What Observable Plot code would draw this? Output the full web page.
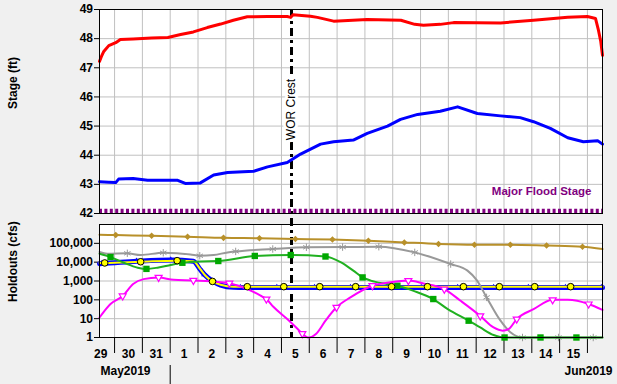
<!DOCTYPE html>
<html><head><meta charset="utf-8">
<script src="https://cdn.jsdelivr.net/npm/d3@7"></script>
<script src="https://cdn.jsdelivr.net/npm/@observablehq/plot@0.6"></script>
<style>
html,body{margin:0;padding:0;background:#f0f0f0;}
#chart{position:relative;width:617px;height:384px;background:#f0f0f0;overflow:hidden;}
#chart svg{position:absolute;left:0;}
</style></head><body><div id="chart"></div>
<script>
// ---------- data ----------
const xStart = "05-29 11:00", xEnd = "06-16 13:00";
const crestTime = "06-05 08:40";
const floodStage = 42.08;
const stageTicks = [42, 43, 44, 45, 46, 47, 48, 49];
const holdTicks = [1, 10, 100, 1000, 10000, 100000];
const holdGrid = [10, 100, 1000, 10000, 100000];
const dayBounds = ["05-30","05-31","06-01","06-02","06-03","06-04","06-05","06-06","06-07","06-08","06-09","06-10","06-11","06-12","06-13","06-14","06-15","06-16"];
const dayLabels = ["05-29","05-30","05-31","06-01","06-02","06-03","06-04","06-05","06-06","06-07","06-08","06-09","06-10","06-11","06-12","06-13","06-14","06-15"];
const monthLabels = ["May2019", "Jun2019"];

const stageRed = [["05-29 11:00",47.22],["05-29 13:00",47.42],["05-29 14:30",47.55],["05-29 19:00",47.76],["05-30 01:00",47.86],["05-30 05:00",47.97],["05-30 16:00",47.99],["05-31 08:00",48.02],["05-31 22:00",48.04],["06-01 09:00",48.14],["06-01 20:00",48.23],["06-02 08:00",48.38],["06-02 19:30",48.5],["06-03 06:30",48.63],["06-03 18:30",48.75],["06-04 12:00",48.76],["06-05 05:00",48.76],["06-05 08:00",48.73],["06-05 10:00",48.82],["06-06 01:00",48.77],["06-06 07:00",48.73],["06-06 21:00",48.6],["06-08 02:00",48.66],["06-09 07:00",48.63],["06-09 19:00",48.49],["06-10 02:30",48.46],["06-10 17:00",48.49],["06-11 04:30",48.55],["06-12 21:00",48.54],["06-14 01:30",48.63],["06-15 07:00",48.73],["06-16 00:00",48.76],["06-16 07:00",48.69],["06-16 09:30",48.29],["06-16 11:30",47.9],["06-16 13:00",47.43]];

const stageBlue = [["05-29 11:00",43.09],["05-29 19:00",43.07],["05-30 01:00",43.06],["05-30 03:30",43.18],["05-30 16:00",43.2],["05-31 04:30",43.14],["06-01 06:30",43.14],["06-01 13:00",43.03],["06-02 02:00",43.05],["06-02 13:30",43.32],["06-03 01:30",43.41],["06-04 00:00",43.45],["06-04 12:00",43.6],["06-05 05:00",43.75],["06-05 16:30",44.04],["06-06 09:45",44.38],["06-06 21:00",44.46],["06-07 14:00",44.52],["06-08 02:00",44.75],["06-08 19:30",45.0],["06-09 06:45",45.23],["06-09 21:30",45.4],["06-10 17:00",45.51],["06-11 08:00",45.66],["06-12 01:00",45.43],["06-12 21:00",45.35],["06-13 14:00",45.29],["06-14 01:30",45.15],["06-14 16:00",44.92],["06-15 07:00",44.6],["06-15 20:30",44.46],["06-16 08:45",44.5],["06-16 13:00",44.38]];

// holdouts (cfs); third element 1 = marker drawn on that point
const holdGold = [["05-29 11:00",288000],["05-30 01:00",275000,1],["05-31 08:00",251000,1],["06-01 15:00",224000,1],["06-02 22:00",195000,1],["06-04 05:00",186000,1],["06-05 12:00",170000,1],["06-06 20:00",158000,1],["06-08 03:00",138000,1],["06-09 10:00",112000,1],["06-10 15:30",93000,1],["06-11 22:30",85000,1],["06-13 05:30",85000,1],["06-14 12:45",76000,1],["06-15 19:45",66000,1],["06-16 13:00",50000]];

const holdGray = [["05-29 11:00",34700],["05-29 17:45",28200],["05-30 11:00",29500,1],["05-30 22:30",24000],["05-31 18:00",31600,1],["06-01 17:30",25700],["06-02 01:30",21900,1],["06-02 13:30",24000],["06-03 01:30",33000],["06-03 08:30",37200,1],["06-04 16:30",50000,1],["06-05 21:30",61700,1],["06-07 04:45",63000,1],["06-08 12:00",66100,1],["06-09 19:00",33100,1],["06-11 02:00",7940,1],["06-11 16:30",3550],["06-12 00:30",1120],["06-12 09:00",135,1],["06-12 21:00",7.8],["06-13 05:30",1.9],["06-13 16:00",1,1],["06-14 23:00",1,1],["06-16 05:00",1,1],["06-16 13:00",1]];

const holdGreen = [["05-29 11:00",28000],["05-29 20:30",18600,1],["05-30 08:00",9300],["05-30 20:00",5100],["05-31 03:30",4400,1],["05-31 13:00",5100],["06-01 00:30",7100],["06-01 10:30",9300,1],["06-02 02:00",11000],["06-02 17:30",11500,1],["06-04 01:00",21400,1],["06-05 08:00",24000,1],["06-06 14:00",20000,1],["06-07 03:00",10000],["06-07 14:00",3550],["06-07 22:00",1550,1],["06-08 05:00",1050],["06-08 18:00",710],["06-09 04:00",560,1],["06-09 18:00",300],["06-10 11:00",110,1],["06-10 23:30",32],["06-11 17:30",7.8,1],["06-12 03:30",3.4],["06-12 15:00",1.35],["06-12 23:30",1],["06-13 00:30",1,1],["06-14 07:30",1,1],["06-15 14:30",1,1],["06-16 13:00",1]];

const holdBlue = [["05-29 11:00",8300],["05-29 13:00",8400,1],["05-30 19:00",11200,1],["06-01 00:30",13200,1],["06-01 20:00",11200],["06-02 02:00",4000],["06-02 05:30",2240,1],["06-02 12:30",1000],["06-02 19:30",600],["06-03 06:30",460],["06-03 12:30",457,1],["06-04 20:00",457,1],["06-06 04:30",457,1],["06-07 11:30",457,1],["06-08 18:45",457,1],["06-10 01:00",457,1],["06-11 08:00",457,1],["06-12 15:00",457,1],["06-13 21:00",457,1],["06-15 05:00",457,1],["06-16 12:00",457,1],["06-16 13:00",457]];

const holdYellow = [["05-29 11:00",9100],["05-29 15:30",9100,1],["05-30 22:30",10500,1],["06-01 06:00",12000,1],["06-01 20:00",11200],["06-02 02:00",4200],["06-02 06:30",1900],["06-02 12:30",950,1],["06-02 19:30",630],["06-03 06:30",500],["06-03 18:30",500,1],["06-05 02:00",500,1],["06-06 09:00",500,1],["06-07 16:00",500,1],["06-08 23:00",500,1],["06-10 06:00",500,1],["06-11 13:00",500,1],["06-12 20:00",500,1],["06-14 02:30",500,1],["06-15 09:30",500,1],["06-16 13:00",500]];

const holdMagenta = [["05-29 11:00",11.5],["05-29 20:30",60],["05-30 07:00",160,1],["05-30 16:00",690],["05-31 01:00",1260],["05-31 14:00",1550,1],["06-01 03:00",1150],["06-01 20:00",1070,1],["06-02 13:30",930],["06-03 03:00",760,1],["06-03 18:30",370],["06-04 06:00",166],["06-04 11:00",110,1],["06-04 17:00",43],["06-05 05:00",9.5],["06-05 14:00",2.8],["06-05 18:00",1.6,1],["06-05 23:30",1.0],["06-06 06:00",1.6],["06-06 14:00",7.8],["06-06 23:30",40,1],["06-07 11:30",135],["06-08 06:30",560,1],["06-08 22:00",850],["06-09 13:30",1050,1],["06-10 02:30",740],["06-10 20:30",370,1],["06-11 10:30",89],["06-12 03:30",14,1],["06-12 15:00",3.4],["06-12 22:45",2.3],["06-13 04:00",2.8],["06-13 11:00",9.5,1],["06-14 01:30",32],["06-14 18:00",100,1],["06-15 07:00",100],["06-16 01:00",60,1],["06-16 13:00",29]];

// ---------- helpers ----------
const T = s => new Date(`2019-${s.length === 5 ? s + "T00:00" : s.replace(" ", "T")}:00Z`);
const rows = a => a.map(([t, v, m]) => ({t: T(t), v, m: !!m}));
const markers = a => rows(a).filter(d => d.m);
const xDomain = [T(xStart), T(xEnd)];
const crest = T(crestTime);
const bounds = dayBounds.map(T);
const noons = dayLabels.map(s => new Date(T(s).getTime() + 12 * 3600e3));
const font = "'Liberation Sans', Arial, sans-serif";
const gridColor = "#c0c0c0";
const W = 617, ML = 99, MR = 15;

// ---------- top panel: stage ----------
const stagePlot = Plot.plot({
  width: W, height: 218,
  marginLeft: ML, marginRight: MR, marginTop: 9, marginBottom: 5,
  style: {background: "transparent", fontFamily: font, fontSize: "12px", fontWeight: "bold", color: "black", overflow: "visible"},
  x: {type: "utc", domain: xDomain, axis: null},
  y: {domain: [42, 49], axis: null},
  marks: [
    Plot.frame({fill: "white", stroke: null}),
    Plot.ruleX(bounds, {stroke: gridColor}),
    Plot.ruleY(stageTicks.slice(1, -1), {stroke: gridColor}),
    Plot.axisY(stageTicks, {tickSize: 5, tickPadding: 1.5, label: null, fontWeight: "bold", fontSize: 12}),
    Plot.ruleX([crest], {stroke: "black", strokeWidth: 3, strokeDasharray: "8,4,3,4", insetBottom: -5}),
    Plot.text(["WOR Crest"], {x: () => crest, y: () => 45.57, rotate: -90, fill: "black", stroke: "white", strokeWidth: 6, fontWeight: "normal", fontSize: 12}),
    Plot.ruleY([floodStage], {stroke: "#800080", strokeWidth: 5, strokeDasharray: "3,2.4"}),
    Plot.text(["Major Flood Stage"], {frameAnchor: "bottom-right", dx: -11, dy: -18.5, fill: "#800080", fontWeight: "bold", fontSize: 11.5}),
    Plot.line(rows(stageRed), {x: "t", y: "v", stroke: "#ff0000", strokeWidth: 3}),
    Plot.line(rows(stageBlue), {x: "t", y: "v", stroke: "#0000ff", strokeWidth: 3}),
    Plot.text(["Stage (ft)"], {frameAnchor: "left", dx: -86.5, dy: -2.5, rotate: -90, fontWeight: "bold", fontSize: 12}),
    Plot.frame({stroke: "black", strokeWidth: 1})
  ]
});
stagePlot.style.top = "0px";

// ---------- bottom panel: holdouts ----------
const curve = "monotone-x";
const holdPlot = Plot.plot({
  width: W, height: 166,
  marginLeft: ML, marginRight: MR, marginTop: 6, marginBottom: 47,
  style: {background: "transparent", fontFamily: font, fontSize: "12px", fontWeight: "bold", color: "black", overflow: "visible"},
  x: {type: "utc", domain: xDomain, axis: null},
  y: {type: "log", domain: [1, 1e6], axis: null},
  marks: [
    Plot.frame({fill: "white", stroke: null}),
    Plot.ruleX(bounds, {stroke: gridColor}),
    Plot.ruleY(holdGrid, {stroke: gridColor}),
    Plot.axisY(holdTicks, {tickSize: 5, tickPadding: 1.5, tickFormat: d3.format(","), label: null, fontWeight: "bold", fontSize: 12}),
    Plot.axisX(bounds, {tickSize: 16, tickFormat: () => "", label: null}),
    Plot.axisX(noons, {tickSize: 0, tickPadding: 11.5, tickFormat: d3.utcFormat("%-d"), label: null, fontWeight: "bold", fontSize: 12}),
    Plot.ruleX([T("06-01")], {stroke: "black", insetTop: 141, insetBottom: -47}),
    Plot.text([monthLabels[0]], {x: () => xDomain[0], frameAnchor: "bottom", dy: 37, textAnchor: "start", dx: 1, fontWeight: "bold", fontSize: 12}),
    Plot.text([monthLabels[1]], {x: () => xDomain[1], frameAnchor: "bottom", dy: 37, textAnchor: "end", dx: 10, fontWeight: "bold", fontSize: 12}),
    Plot.ruleX([crest], {stroke: "black", strokeWidth: 3, strokeDasharray: "8,4,3,4", insetTop: -6}),
    Plot.line(rows(holdBlue), {x: "t", y: "v", stroke: "#0000ff", strokeWidth: 5, curve}),
    Plot.dot(markers(holdBlue), {x: "t", y: "v", symbol: "triangle", fill: "#0000ff", r: 2.4}),
    Plot.line(rows(holdYellow), {x: "t", y: "v", stroke: "#ffff00", strokeWidth: 2, curve}),
    Plot.line(rows(holdGold), {x: "t", y: "v", stroke: "#b8902a", strokeWidth: 2, curve}),
    Plot.dot(markers(holdGold), {x: "t", y: "v", symbol: "square", rotate: 45, fill: "#b8902a", r: 2.6}),
    Plot.line(rows(holdGray), {x: "t", y: "v", stroke: "#999999", strokeWidth: 2, curve}),
    Plot.dot(markers(holdGray), {x: "t", y: "v", symbol: "asterisk", stroke: "#999999", strokeWidth: 1, r: 3.5}),
    Plot.line(rows(holdGreen), {x: "t", y: "v", stroke: "#20b020", strokeWidth: 2, curve}),
    Plot.dot(markers(holdGreen), {x: "t", y: "v", symbol: "square", fill: "#00a800", r: 3.6}),
    Plot.line(rows(holdMagenta), {x: "t", y: "v", stroke: "#ff00ff", strokeWidth: 2, curve}),
    Plot.dot(markers(holdMagenta), {x: "t", y: "v", symbol: "triangle", rotate: 180, fill: "white", stroke: "#ff00ff", strokeWidth: 1.2, r: 2.6}),
    Plot.dot(markers(holdYellow), {x: "t", y: "v", symbol: "circle", fill: "#ffff00", stroke: "black", strokeWidth: 1, r: 3.3}),
    Plot.text(["Holdouts (cfs)"], {frameAnchor: "left", dx: -86.5, dy: 21, rotate: -90, fontWeight: "bold", fontSize: 12}),
    Plot.frame({stroke: "black", strokeWidth: 1})
  ]
});
holdPlot.style.top = "218px";

document.getElementById("chart").append(stagePlot, holdPlot);
</script></body></html>
